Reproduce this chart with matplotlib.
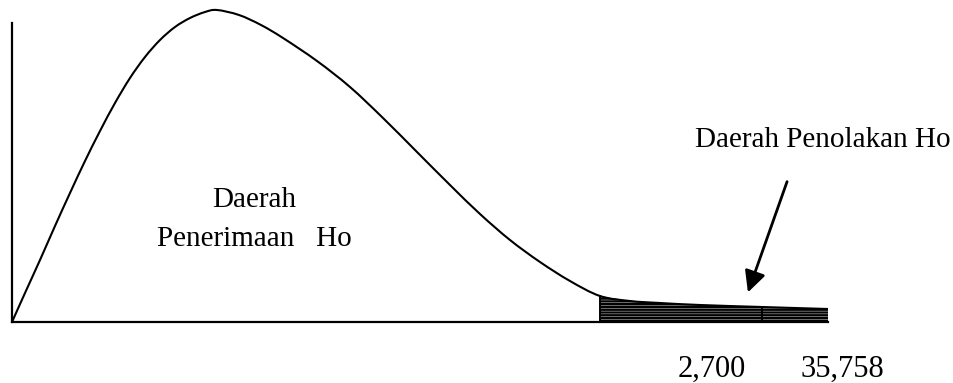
import matplotlib.pyplot as plt
from matplotlib.path import Path
from matplotlib.patches import PathPatch

# kurva chi-kuadrat
kurva_x = [0.00, 0.13, 0.28, 0.43, 0.58, 0.73, 0.88, 1.03, 1.18, 1.33, 1.48,
           1.63, 1.78, 1.93, 2.05, 2.27, 2.49, 2.71, 3.05, 3.38, 3.71, 4.05,
           4.38, 4.68, 4.98, 5.28, 5.58, 5.88, 6.18, 6.48, 6.88, 7.50, 8.16]
kurva_y = [0.000, 0.029, 0.062, 0.096, 0.129, 0.161, 0.191, 0.219, 0.244,
           0.265, 0.282, 0.295, 0.304, 0.310, 0.312, 0.307, 0.297, 0.284,
           0.261, 0.235, 0.204, 0.170, 0.137, 0.108, 0.082, 0.060, 0.041,
           0.026, 0.021, 0.019, 0.017, 0.015, 0.013]

batas_tolak = 5.88      # awal daerah penolakan
batas_hitung = 7.50     # garis tegak di dalam daerah arsir
label_angka = ["2,700", "35,758"]


def jalur_halus(xs, ys):
    """Path bezier (catmull-rom) lewat titik-titik kurva."""
    verts = [(xs[0], ys[0])]
    codes = [Path.MOVETO]
    n = len(xs)
    for i in range(n - 1):
        x0, y0 = (xs[i - 1], ys[i - 1]) if i > 0 else (xs[i], ys[i])
        x1, y1 = xs[i], ys[i]
        x2, y2 = xs[i + 1], ys[i + 1]
        x3, y3 = (xs[i + 2], ys[i + 2]) if i + 2 < n else (x2, y2)
        verts += [(x1 + (x2 - x0) / 6, y1 + (y2 - y0) / 6),
                  (x2 - (x3 - x1) / 6, y2 - (y3 - y1) / 6),
                  (x2, y2)]
        codes += [Path.CURVE4] * 3
    return verts, codes


plt.rcParams['font.family'] = ['Liberation Serif', 'DejaVu Serif']
plt.rcParams['hatch.linewidth'] = 1.7

fig = plt.figure(figsize=(9.54, 3.83), dpi=100)
ax = fig.add_axes([0, 0, 1, 1])
ax.set_xlim(-0.12, 9.42)
ax.set_ylim(-0.061, 0.322)
ax.axis('off')

# sumbu
ax.plot([0, 0], [0, 0.299], color='black', lw=1.6)
ax.plot([0, kurva_x[-1]], [0, 0], color='black', lw=1.6)

# kurva
verts, codes = jalur_halus(kurva_x, kurva_y)
ax.add_patch(PathPatch(Path(verts, codes), facecolor='none',
                       edgecolor='black', lw=1.5))

# daerah penolakan diarsir
xs = [x for x in kurva_x if x >= batas_tolak]
ys = [y for x, y in zip(kurva_x, kurva_y) if x >= batas_tolak]
ax.fill_between(xs, 0, ys, facecolor='none', edgecolor='black',
                hatch='------', linewidth=0)
ax.plot([batas_tolak, batas_tolak], [0, ys[0]], color='black', lw=1.4)
y_hitung = kurva_y[kurva_x.index(batas_hitung)]
ax.plot([batas_hitung, batas_hitung], [0, y_hitung], color='black', lw=1.4)

# teks
ax.text(2.00, 0.115, "Daerah", fontsize=21, ha='left', va='baseline')
ax.text(1.45, 0.076, "Penerimaan   Ho", fontsize=21, ha='left', va='baseline')
ax.text(6.83, 0.175, "Daerah Penolakan Ho", fontsize=21, ha='left', va='baseline')

ax.annotate('', xy=(7.35, 0.027), xytext=(7.76, 0.143),
            arrowprops=dict(arrowstyle='-|>', color='black', lw=2,
                            mutation_scale=32))

ax.text(6.66, -0.055, label_angka[0], fontsize=22, ha='left', va='baseline')
ax.text(7.88, -0.055, label_angka[1], fontsize=22, ha='left', va='baseline')

fig.savefig('out.png', dpi=100)
